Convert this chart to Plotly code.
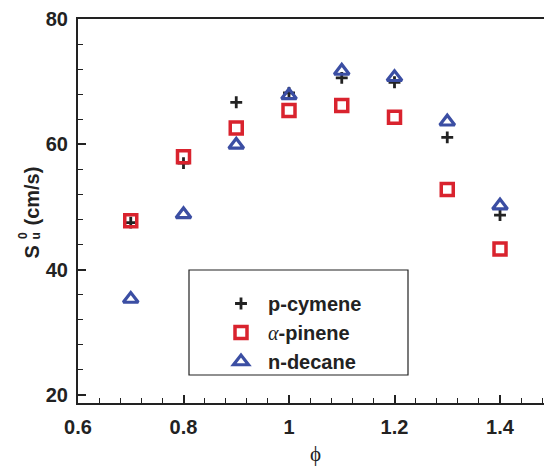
import plotly.graph_objects as go

# Equivalence ratio and laminar burning velocity (cm/s)
phi = [0.7, 0.8, 0.9, 1.0, 1.1, 1.2, 1.3, 1.4]
su_cymene = [47.5, 57.0, 66.7, 68.2, 70.6, 69.9, 61.1, 48.7]
su_pinene = [47.8, 58.0, 62.6, 65.4, 66.2, 64.3, 52.8, 43.3]
su_decane = [35.3, 48.8, 59.9, 67.8, 71.7, 70.7, 63.6, 50.2]

x_ticks = [0.6, 0.8, 1.0, 1.2, 1.4]
x_tick_text = ["0.6", "0.8", "1", "1.2", "1.4"]
y_ticks = [20, 40, 60, 80]

FONT = "Liberation Sans, Arial, sans-serif"
INK = "#222222"
RED = "#d9232e"
BLUE = "#3b4ea3"

W, H = 544, 468
ML, MR, MT, MB = 78, 0, 19, 65
PW, PH = W - ML - MR, H - MT - MB


def px(x):
    """pixel column -> paper x"""
    return (x - ML) / PW


def py(y):
    """pixel row -> paper y"""
    return (H - MB - y) / PH


fig = go.Figure()
fig.add_trace(go.Scatter(
    x=phi, y=su_cymene, mode="markers", name="p-cymene",
    marker=dict(symbol="cross-thin", size=8.5, color=INK,
                line=dict(width=2.8, color=INK)),
))
fig.add_trace(go.Scatter(
    x=phi, y=su_pinene, mode="markers",
    name="<span style=\"font-family:'Liberation Serif';font-weight:normal\"><i>α</i></span>-pinene",
    marker=dict(symbol="square-open", size=12, color=RED,
                line=dict(width=3.5, color=RED)),
))
fig.add_trace(go.Scatter(
    x=phi, y=su_decane, mode="markers", name="n-decane",
    marker=dict(symbol="triangle-up-open", size=13, color=BLUE,
                line=dict(width=3.2, color=BLUE)),
))

# legend frame
fig.add_shape(type="rect", xref="paper", yref="paper",
              x0=px(189), x1=px(408), y0=py(375), y1=py(270),
              line=dict(color=INK, width=1.2), fillcolor="white", layer="below")

# y-axis title with stacked sub/superscript: S, 0 over u, (cm/s)
title_font = dict(family=FONT, size=20, weight="bold", color=INK)
small_font = dict(family=FONT, size=12, weight="bold", color=INK)
ann = [
    dict(text="(cm/s)", cx=31, cy=196.5, font=title_font),
    dict(text="S", cx=31, cy=252.5, font=title_font),
    dict(text="0", cx=23, cy=236, font=small_font),
    dict(text="u", cx=35.5, cy=236, font=small_font),
]
for a in ann:
    fig.add_annotation(text=a["text"], xref="paper", yref="paper",
                       x=px(a["cx"]), y=py(a["cy"]), xanchor="center", yanchor="middle",
                       textangle=-90, showarrow=False, font=a["font"])

# x-axis title
fig.add_annotation(text="ϕ", xref="paper", yref="paper", x=px(315), y=py(454),
                   xanchor="center", yanchor="middle", showarrow=False,
                   font=dict(family="Liberation Serif, serif", size=21, color=INK))

fig.update_layout(
    width=W, height=H,
    margin=dict(l=ML, r=MR, t=MT, b=MB),
    paper_bgcolor="white", plot_bgcolor="white",
    font=dict(family=FONT, color=INK),
    showlegend=True,
    legend=dict(x=px(214), y=py(284), xanchor="left", yanchor="top",
                bgcolor="rgba(0,0,0,0)", borderwidth=0, itemwidth=44,
                font=dict(family=FONT, size=20, weight="bold", color=INK)),
    xaxis=dict(
        range=[0.6, 1.4834], tickvals=x_ticks, ticktext=x_tick_text,
        showgrid=False, zeroline=False,
        showline=True, linecolor=INK, linewidth=2, mirror=True,
        ticks="inside", ticklen=8, tickwidth=1.5, tickcolor=INK,
        minor=dict(dtick=0.04, tick0=0.6, ticks="inside", ticklen=5,
                   tickwidth=1.2, tickcolor=INK, showgrid=False),
        tickfont=dict(family=FONT, size=20, weight="bold", color=INK),
        ticklabelstandoff=5,
    ),
    yaxis=dict(
        range=[18.7, 80], tickvals=y_ticks,
        showgrid=False, zeroline=False,
        showline=True, linecolor=INK, linewidth=2, mirror=False,
        ticks="inside", ticklen=8, tickwidth=1.5, tickcolor=INK,
        minor=dict(dtick=4, tick0=20, ticks="inside", ticklen=5,
                   tickwidth=1.2, tickcolor=INK, showgrid=False),
        tickfont=dict(family=FONT, size=20, weight="bold", color=INK),
        ticklabelstandoff=4,
    ),
)

fig.write_html("out.html")
